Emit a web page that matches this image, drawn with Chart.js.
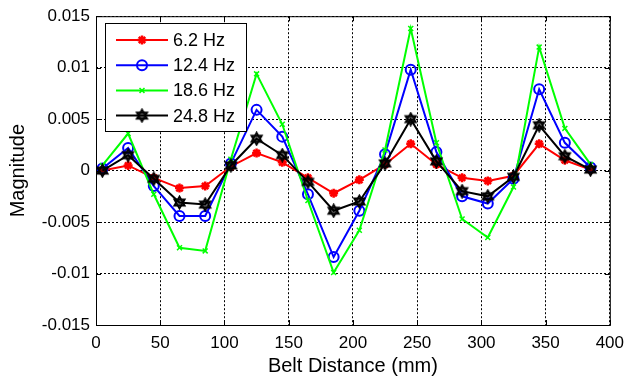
<!DOCTYPE html>
<html>
<head>
<meta charset="utf-8">
<script src="https://cdn.jsdelivr.net/npm/chart.js@4/dist/chart.umd.min.js"></script>
<style>
  html, body { margin: 0; padding: 0; background: #fff; }
  #wrap { width: 632px; height: 381px; }
</style>
</head>
<body>
<div id="wrap"><canvas id="c" width="632" height="381"></canvas></div>
<script>
'use strict';

// belt position of each sample (mm)
const beltPos = [5, 25, 45, 65, 85, 105, 125, 145, 165, 185, 205, 225, 245, 265, 285, 305, 325, 345, 365, 385];

const seriesNames = ['6.2 Hz', '12.4 Hz', '18.6 Hz', '24.8 Hz'];

const mag62  = [0.0000, 0.0005, -0.0007, -0.0017, -0.0015, 0.0004, 0.0017, 0.0008, -0.0007, -0.0022,
                -0.0009, 0.0006, 0.0026, 0.0006, -0.0007, -0.0010, -0.0005, 0.0026, 0.0010, 0.0001];
const mag124 = [0.0002, 0.0022, -0.0015, -0.0044, -0.0044, 0.0007, 0.0059, 0.0033, -0.0023, -0.0084,
                -0.0039, 0.0016, 0.0098, 0.0018, -0.0025, -0.0032, -0.0008, 0.0079, 0.0027, 0.0003];
const mag186 = [0.0005, 0.0036, -0.0023, -0.0075, -0.0078, 0.0011, 0.0094, 0.0045, -0.0029, -0.0099,
                -0.0058, 0.0020, 0.0138, 0.0027, -0.0047, -0.0065, -0.0016, 0.0120, 0.0041, 0.0006];
const mag248 = [0.0000, 0.0015, -0.0008, -0.0031, -0.0033, 0.0005, 0.0031, 0.0015, -0.0011, -0.0039,
                -0.0030, 0.0007, 0.0050, 0.0009, -0.0020, -0.0025, -0.0006, 0.0044, 0.0014, 0.0001];

const xTicks = [0, 50, 100, 150, 200, 250, 300, 350, 400];
const yTicks = [-0.015, -0.01, -0.005, 0, 0.005, 0.01, 0.015];

const FONT = 'Arial, "Liberation Sans", Helvetica, sans-serif';

// matlab style hexagram marker
function hexagram(size, color) {
  const cv = document.createElement('canvas');
  cv.width = size; cv.height = size;
  const g = cv.getContext('2d');
  const c = size / 2, r = size / 2 - 1.5;
  g.strokeStyle = color;
  g.lineWidth = 1.8;
  g.lineJoin = 'miter';
  for (let t = 0; t < 2; t++) {
    g.beginPath();
    for (let k = 0; k < 3; k++) {
      const a = -Math.PI / 2 + t * Math.PI + k * 2 * Math.PI / 3;
      const px = c + r * Math.cos(a), py = c + r * Math.sin(a);
      if (k === 0) g.moveTo(px, py); else g.lineTo(px, py);
    }
    g.closePath();
    g.stroke();
  }
  g.fillStyle = 'rgba(0,0,0,0.55)';
  g.beginPath();
  g.arc(c, c, r * 0.45, 0, Math.PI * 2);
  g.fill();
  return cv;
}

const hexMarker = hexagram(15, '#000');

function toPoints(ys) {
  return beltPos.map((x, i) => ({ x, y: ys[i] }));
}

const styles = [
  { color: '#ff0000', pointStyle: 'star',     radius: 4.5, bw: 2.5, bg: '#ff0000' },
  { color: '#0000ff', pointStyle: 'circle',   radius: 5,   bw: 2,   bg: 'rgba(0,0,0,0)' },
  { color: '#00ff00', pointStyle: 'crossRot', radius: 3.5, bw: 1.5, bg: '#00ff00' },
  { color: '#000000', pointStyle: hexMarker,  radius: 7,   bw: 2,   bg: '#000' },
];
const seriesData = [mag62, mag124, mag186, mag248];

const datasets = seriesData.map((ys, i) => ({
  label: seriesNames[i],
  data: toPoints(ys),
  borderColor: styles[i].color,
  backgroundColor: styles[i].bg,
  borderWidth: 2,
  tension: 0,
  fill: false,
  pointStyle: styles[i].pointStyle,
  pointRadius: styles[i].radius,
  pointBorderWidth: styles[i].bw,
  pointBorderColor: styles[i].color,
  pointBackgroundColor: styles[i].bg,
  order: 3 - i,
}));

// axes box, inward ticks and legend
const matlabBox = {
  id: 'matlabBox',
  afterDraw(chart) {
    const { ctx, chartArea: a, scales } = chart;
    ctx.save();
    ctx.strokeStyle = '#000';
    ctx.lineWidth = 1;
    ctx.setLineDash([]);
    ctx.strokeRect(a.left + 0.5, a.top + 0.5, a.right - a.left, a.bottom - a.top);
    const tl = 5;
    ctx.beginPath();
    xTicks.forEach(v => {
      const px = Math.round(scales.x.getPixelForValue(v)) + 0.5;
      ctx.moveTo(px, a.bottom); ctx.lineTo(px, a.bottom - tl);
      ctx.moveTo(px, a.top); ctx.lineTo(px, a.top + tl);
    });
    yTicks.forEach(v => {
      const py = Math.round(scales.y.getPixelForValue(v)) + 0.5;
      ctx.moveTo(a.left, py); ctx.lineTo(a.left + tl, py);
      ctx.moveTo(a.right, py); ctx.lineTo(a.right - tl, py);
    });
    ctx.stroke();

    // legend
    const bx = 105, by = 23, bw = 141, bh = 108;
    ctx.fillStyle = '#fff';
    ctx.fillRect(bx, by, bw, bh);
    ctx.strokeStyle = '#000';
    ctx.strokeRect(bx + 0.5, by + 0.5, bw, bh);
    ctx.font = '18px ' + FONT;
    ctx.textBaseline = 'middle';
    ctx.textAlign = 'left';
    chart.data.datasets.forEach((ds, i) => {
      const ry = by + 17 + i * 25.2;
      ctx.strokeStyle = ds.borderColor;
      ctx.lineWidth = 2;
      ctx.beginPath();
      ctx.moveTo(116, ry); ctx.lineTo(168, ry);
      ctx.stroke();
      ctx.fillStyle = ds.pointBackgroundColor;
      ctx.strokeStyle = ds.pointBorderColor;
      ctx.lineWidth = ds.pointBorderWidth;
      Chart.helpers.drawPoint(ctx, {
        pointStyle: ds.pointStyle,
        radius: ds.pointRadius,
        rotation: 0,
        borderWidth: ds.pointBorderWidth,
      }, 142, ry);
      ctx.fillStyle = '#000';
      ctx.fillText(ds.label, 173, ry + 1);
    });
    ctx.restore();
  },
};

new Chart(document.getElementById('c'), {
  type: 'line',
  data: { datasets },
  plugins: [matlabBox],
  options: {
    responsive: false,
    animation: false,
    events: [],
    layout: { padding: { left: 0, right: 16, top: 14, bottom: 0 } },
    plugins: { legend: { display: false }, tooltip: { enabled: false } },
    scales: {
      x: {
        type: 'linear',
        min: 0,
        max: 400,
        afterFit(s) { s.height = 56; },
        afterBuildTicks(s) { s.ticks = xTicks.map(v => ({ value: v })); },
        grid: { color: '#000', lineWidth: 1, drawTicks: false },
        border: { display: false, dash: [2, 2] },
        ticks: { color: '#000', font: { family: FONT, size: 17 }, padding: 8, maxRotation: 0 },
        title: {
          display: true,
          text: 'Belt Distance (mm)',
          color: '#000',
          font: { family: FONT, size: 20 },
          padding: { top: 0, bottom: 3 },
        },
      },
      y: {
        min: -0.015,
        max: 0.015,
        afterFit(s) { s.width = 96; },
        afterBuildTicks(s) { s.ticks = yTicks.map(v => ({ value: v })); },
        grid: { color: '#000', lineWidth: 1, drawTicks: false },
        border: { display: false, dash: [2, 2] },
        ticks: {
          color: '#000',
          font: { family: FONT, size: 17 },
          padding: 6,
          callback: v => String(Number(v.toFixed(3))),
        },
        title: {
          display: true,
          text: 'Magnitude',
          color: '#000',
          font: { family: FONT, size: 20 },
          padding: { top: 6, bottom: 0 },
        },
      },
    },
  },
});
</script>
</body>
</html>
